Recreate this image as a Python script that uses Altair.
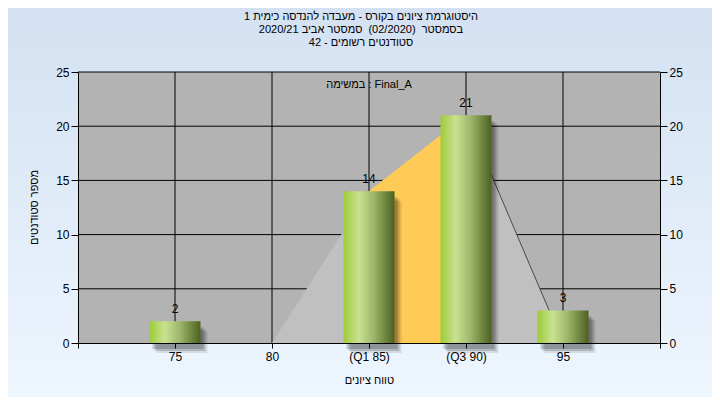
import altair as alt
import pandas as pd

# ---- data ----
bins = [75, 80, 85, 90, 95]
counts = [2, 0, 14, 21, 3]
tick_values = [75, 80, 85, 90, 95]
tick_labels = ["75", "80", "(Q1 85)", "(Q3 90)", "95"]
poly_x = [80, 85, 90, 95]
poly_y = [0, 14, 21, 0]
q1, q3 = 85, 90
y_ticks = [0, 5, 10, 15, 20, 25]
title_lines = [
    "היסטוגרמת ציונים בקורס - מעבדה להנדסה כימית 1",
    "בסמסטר\u00a0\u00a0(02/2020)\u00a0\u00a0סמסטר אביב 2020/21",
    "סטודנטים רשומים - 42",
]
task_label = "במשימה : Final_A"
x_title = "טווח ציונים"
y_title = "מספר סטודנטים"

FONT = "Liberation Sans"
HEB = 11
W, H = 582, 271
PAD = {"left": 70, "top": 64, "right": 52, "bottom": 54}

bars = pd.DataFrame({"grade": bins, "count": counts})
poly = pd.DataFrame({"grade": poly_x, "count": poly_y})
vgrid = pd.DataFrame({"grade": tick_values})
hgrid = pd.DataFrame({"count": y_ticks[1:]})
one = pd.DataFrame({"a": [0]})

xscale = alt.Scale(domain=[70, 100], nice=False, zero=False, padding=0)
yscale = alt.Scale(domain=[0, 25], nice=False, padding=0)

label_expr = " : ".join(
    [f"datum.value == {v} ? '{l}'" for v, l in zip(tick_values, tick_labels)]
) + " : ''"

x_axis = alt.Axis(
    values=[70] + tick_values + [100], labelExpr=label_expr, grid=False,
    tickSize=5, tickColor="black", domainColor="black", labelPadding=3,
    labelFont=FONT, labelFontSize=12, labelColor="black",
    title=x_title, titleFont=FONT, titleFontSize=HEB, titleFontWeight="normal",
    titleColor="black", titleY=37, titleBaseline="middle", zindex=1,
)
y_axis_left = alt.Axis(
    values=y_ticks, grid=False, orient="left", tickSize=7, tickColor="black",
    domainColor="black", labelPadding=2, labelFont=FONT, labelFontSize=12,
    labelColor="black", title=y_title, titleFont=FONT, titleFontSize=HEB,
    titleFontWeight="normal", titleColor="black", titleAngle=270,
    titleX=-44, titleY=135, titleAlign="center", titleBaseline="middle", zindex=1,
)
y_axis_right = alt.Axis(
    values=y_ticks, grid=False, orient="right", tickSize=7, tickColor="black",
    domainColor="black", labelPadding=2, labelFont=FONT, labelFontSize=12,
    labelColor="black", title=None, zindex=1,
)

X = lambda: alt.X("grade:Q", scale=xscale, axis=None)
Y = lambda: alt.Y("count:Q", scale=yscale, axis=None)

bg = alt.Chart(one).mark_rect(
    fill=alt.LinearGradient(
        gradient="linear", x1=0, x2=0, y1=0, y2=1,
        stops=[alt.GradientStop(color="#d3e1f2", offset=0),
               alt.GradientStop(color="#eef6fe", offset=1)],
    )
).encode(
    x=alt.value(-PAD["left"]), x2=alt.value(W + PAD["right"]),
    y=alt.value(-PAD["top"]), y2=alt.value(H + PAD["bottom"]),
)

plotbg = alt.Chart(one).mark_rect(fill="#b3b3b3").encode(
    x=alt.value(0), x2=alt.value(W), y=alt.value(0), y2=alt.value(H)
)

vrules = alt.Chart(vgrid).mark_rule(color="black", strokeWidth=1).encode(
    x=alt.X("grade:Q", scale=xscale, axis=x_axis),
    y=alt.value(0), y2=alt.value(H),
)
hrules = alt.Chart(hgrid).mark_rule(color="black", strokeWidth=1).encode(
    y=alt.Y("count:Q", scale=yscale, axis=y_axis_left),
    x=alt.value(0), x2=alt.value(W),
)

area_all = alt.Chart(poly).mark_area(color="#c0c0c0", opacity=1).encode(x=X(), y=Y())
area_iqr = alt.Chart(poly).transform_filter(
    f"datum.grade >= {q1} && datum.grade <= {q3}"
).mark_area(color="#ffcb57", opacity=1).encode(x=X(), y=Y())
edge = alt.Chart(poly).transform_filter(f"datum.grade >= {q3}").mark_line(
    color="#4a4a4a", strokeWidth=1
).encode(x=X(), y=Y())

nonzero = alt.Chart(bars).transform_filter("datum.count > 0")

shadows = []
for off, op in [(3, 0.18), (5, 0.16), (7, 0.1)]:
    shadows.append(
        nonzero.mark_bar(width=51, color="black", opacity=op,
                         xOffset=off, yOffset=off + 3, y2Offset=off - 2).encode(x=X(), y=Y())
    )

bar = nonzero.mark_bar(
    width=51,
    color=alt.LinearGradient(
        gradient="linear", x1=0, x2=1, y1=0, y2=0,
        stops=[alt.GradientStop(color="#9dcb3a", offset=0),
               alt.GradientStop(color="#c9e290", offset=0.3),
               alt.GradientStop(color="#9db46a", offset=0.6),
               alt.GradientStop(color="#4b6120", offset=1)],
    ),
).encode(x=X(), y=Y())

values = nonzero.mark_text(
    font=FONT, fontSize=12, color="black", baseline="alphabetic", dy=-8
).encode(x=X(), y=Y(), text="count:Q")

right_axis = alt.Chart(hgrid).mark_rule(opacity=0).encode(
    y=alt.Y("count:Q", scale=yscale, axis=y_axis_right)
)

title = alt.Chart(one).mark_text(
    font=FONT, fontSize=HEB, color="black", lineHeight=13, baseline="middle",
    align="center",
).encode(x=alt.value(283), y=alt.value(-55), text=alt.value(title_lines))

task = alt.Chart(one).mark_text(
    font=FONT, fontSize=HEB, color="black", baseline="middle", align="center"
).encode(x=alt.value(W / 2), y=alt.value(13), text=alt.value(task_label))

chart = alt.layer(
    bg, plotbg, vrules, hrules, area_all, area_iqr, edge, *shadows, bar,
    values, right_axis, title, task,
).resolve_scale(x="shared", y="shared").resolve_axis(
    x="independent", y="independent"
).properties(
    width=W, height=H, padding=PAD, autosize=alt.AutoSizeParams(type="none"),
    background="#e1ecf8",
).configure_view(strokeWidth=0)

chart.save("out.html", embed_options={"renderer": "svg", "actions": False})
